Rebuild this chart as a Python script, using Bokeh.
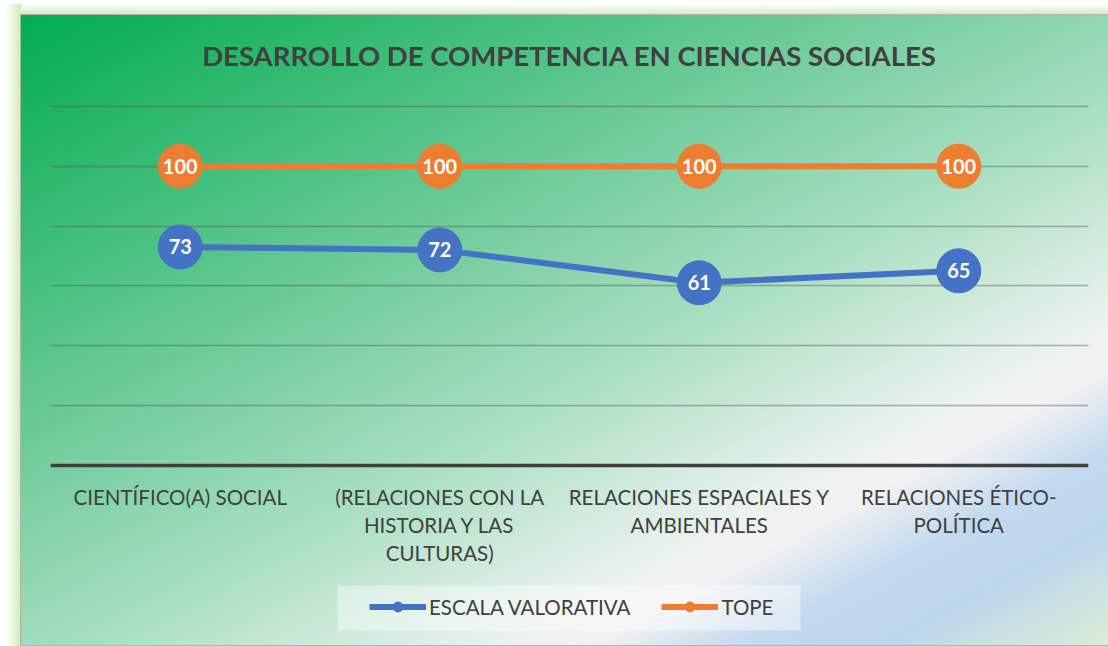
from bokeh.plotting import figure
from bokeh.models import (FactorRange, Range1d, FixedTicker, Legend, LegendItem,
                          ColumnDataSource, Label, BoxAnnotation)
from bokeh.core.properties import value
from bokeh.embed import file_html
from bokeh.resources import INLINE

# ---- data ----
categories = [
    "CIENTÍFICO(A) SOCIAL",
    "(RELACIONES CON LA\nHISTORIA Y LAS\nCULTURAS)",
    "RELACIONES ESPACIALES Y\nAMBIENTALES",
    "RELACIONES ÉTICO-\nPOLÍTICA",
]
escala = [73, 72, 61, 65]
tope = [100, 100, 100, 100]
y_ticks = [0, 20, 40, 60, 80, 100, 120]
series_names = ["ESCALA VALORATIVA", "TOPE"]
title_text = "DESARROLLO DE COMPETENCIA EN CIENCIAS SOCIALES"

BLUE = "#4472C4"
ORANGE = "#ED7D31"
TEXT = "#404040"
FONT = "Lato"

gradient = ("linear-gradient(152deg, #00ad4f 0%, #1fb562 10%, #4cc283 25%, #7acfa2 40%, "
            "#a7dfc1 55%, #cde9d9 65%, #eaf2ee 73%, #f2f2f2 77%, #c3d9ee 84%, "
            "#bcd6ec 90%, #dcecd6 100%)")

# frame spans the full height; y=0 sits at 464.5px, y=120 at 106px
FRAME_LEFT = 50
CAT_PX = (1088 - 50) / 4.0
PX_PER_UNIT = (464.5 - 106) / 120.0
y_lo = -(646 - 464.5) / PX_PER_UNIT
y_hi = 120 + 106 / PX_PER_UNIT


def px_to_y(py):
    return (464.5 - py) / PX_PER_UNIT


def px_to_x(px):
    return (px - FRAME_LEFT) / CAT_PX


p = figure(
    x_range=FactorRange(factors=categories),
    y_range=Range1d(y_lo, y_hi),
    width=1108, height=646,
    output_backend="svg", toolbar_location=None,
    min_border_left=50, min_border_right=20, min_border_top=0, min_border_bottom=0,
    background_fill_color=None, border_fill_color=None, outline_line_color=None,
)
p.styles = {
    "background-color": "#ffffff",
    "background-image": (gradient + ", linear-gradient(#b3b3b3, #b3b3b3)"
                         ", linear-gradient(to right, #ffffff, #cdecb2)"
                         ", linear-gradient(to bottom, #ffffff, #cdecb2)"),
    "background-position": "21px 15px, 20px 14px, 6px 4px, 6px 4px",
    "background-size": "1087px 630px, 1089px 632px, 15px 650px, 1110px 11px",
    "background-repeat": "no-repeat",
}

# title
p.add_layout(Label(x=2, y=px_to_y(55), text=title_text,
                   text_font=FONT, text_font_style="bold", text_font_size="27.5px",
                   text_color=TEXT, text_align="center", text_baseline="middle"))

# axes / grid
p.yaxis.visible = False
p.yaxis.ticker = FixedTicker(ticks=y_ticks)
p.ygrid.grid_line_color = "#595959"
p.ygrid.grid_line_alpha = 0.45
p.ygrid.grid_line_width = 1.5
p.xgrid.visible = False

xa = p.xaxis[0]
xa.fixed_location = 0
xa.major_label_text_font = FONT
xa.major_label_text_font_size = "20.5px"
xa.major_label_text_color = TEXT
xa.major_label_text_line_height = 1.16
xa.major_label_standoff = 14
xa.major_tick_line_color = None
xa.minor_tick_line_color = None
xa.axis_line_color = "#3f3f3f"
xa.axis_line_width = 3.5

src1 = ColumnDataSource(dict(x=categories, y=escala, t=[str(v) for v in escala]))
src2 = ColumnDataSource(dict(x=categories, y=tope, t=[str(v) for v in tope]))

r2 = p.line("x", "y", source=src2, line_width=6, color=ORANGE)
s2 = p.scatter("x", "y", source=src2, size=44, color=ORANGE)
r1 = p.line("x", "y", source=src1, line_width=6, color=BLUE)
s1 = p.scatter("x", "y", source=src1, size=44, color=BLUE)

for src in (src1, src2):
    p.text("x", "y", text="t", source=src, text_font=value(FONT), text_font_style="bold",
           text_font_size="20px", text_color="white", text_align="center", text_baseline="middle")

# legend background panel
p.add_layout(BoxAnnotation(left=px_to_x(337), right=px_to_x(800),
                           top=px_to_y(585), bottom=px_to_y(630),
                           fill_color="white", fill_alpha=0.42, line_color=None,
                           level="underlay"))

legend = Legend(
    items=[LegendItem(label=series_names[0], renderers=[r1, s1]),
           LegendItem(label=series_names[1], renderers=[r2, s2])],
    orientation="horizontal", location=(319, 27),
    glyph_width=57, glyph_height=25, label_standoff=3, spacing=31, margin=0, padding=0,
    background_fill_alpha=0, border_line_color=None,
    label_text_font=FONT, label_text_font_size="20.5px", label_text_color=TEXT,
)
p.add_layout(legend)

open("out.html", "w").write(file_html(p, INLINE))
